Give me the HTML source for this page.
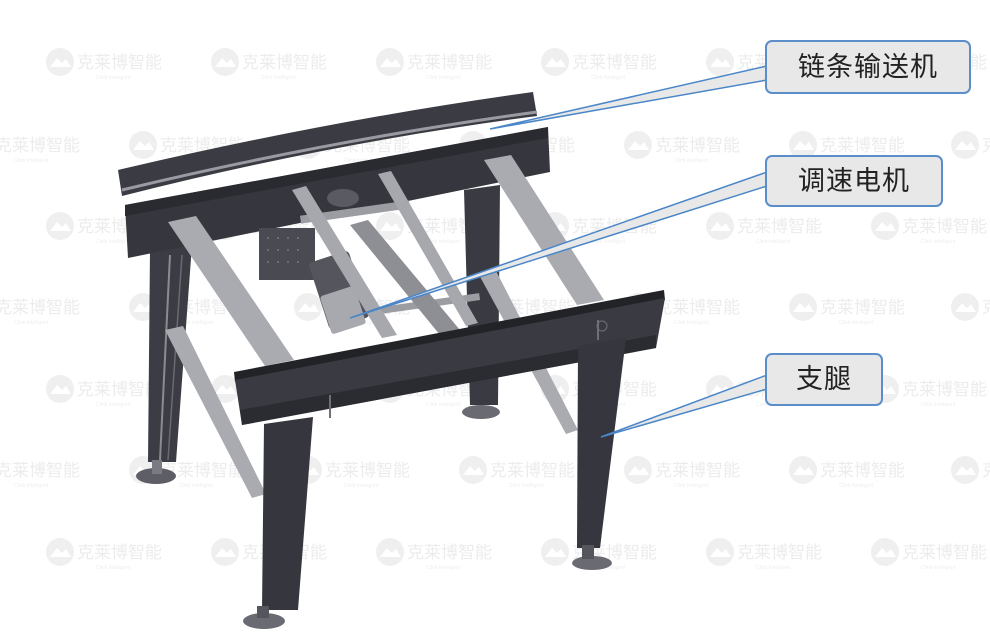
<!DOCTYPE html>
<html><head><meta charset="utf-8"><style>
html,body{margin:0;padding:0;background:#fff;}
.w{position:relative;width:990px;height:638px;overflow:hidden;background:#fff;}
svg{position:absolute;left:0;top:0;}
.lbl{position:absolute;background:#e8e8e8;border:2px solid #5b8ec9;border-radius:7px;font-family:"Liberation Sans","Noto Sans CJK SC",sans-serif;font-size:27px;color:#222;box-sizing:border-box;text-align:center;letter-spacing:1px;}
</style></head><body><div class="w">
<svg width="990" height="638" viewBox="0 0 990 638">
<defs>
<g id="wm">
<circle cx="0" cy="0" r="14" fill="#efefef"/>
<path d="M-10 5 L-3 -4 L2 1 L6 -3 L11 5 Z" fill="#fff"/>
<text x="17" y="6" font-family="Liberation Sans, Noto Sans CJK SC, sans-serif" font-size="17" fill="#ececec">克莱博智能</text>
<text x="36" y="17" font-family="Liberation Sans, sans-serif" font-size="5" fill="#eeeeee">Clinb Intelligent</text>
</g>
</defs>
<g>
<use href="#wm" x="60" y="62"/><use href="#wm" x="225" y="62"/><use href="#wm" x="390" y="62"/><use href="#wm" x="555" y="62"/><use href="#wm" x="720" y="62"/><use href="#wm" x="885" y="62"/>
<use href="#wm" x="-22" y="145"/><use href="#wm" x="143" y="145"/><use href="#wm" x="308" y="145"/><use href="#wm" x="473" y="145"/><use href="#wm" x="638" y="145"/><use href="#wm" x="803" y="145"/><use href="#wm" x="965" y="145"/>
<use href="#wm" x="60" y="226"/><use href="#wm" x="225" y="226"/><use href="#wm" x="390" y="226"/><use href="#wm" x="555" y="226"/><use href="#wm" x="720" y="226"/><use href="#wm" x="885" y="226"/>
<use href="#wm" x="-22" y="307"/><use href="#wm" x="143" y="307"/><use href="#wm" x="308" y="307"/><use href="#wm" x="473" y="307"/><use href="#wm" x="638" y="307"/><use href="#wm" x="803" y="307"/><use href="#wm" x="965" y="307"/>
<use href="#wm" x="60" y="389"/><use href="#wm" x="225" y="389"/><use href="#wm" x="390" y="389"/><use href="#wm" x="555" y="389"/><use href="#wm" x="720" y="389"/><use href="#wm" x="885" y="389"/>
<use href="#wm" x="-22" y="470"/><use href="#wm" x="143" y="470"/><use href="#wm" x="308" y="470"/><use href="#wm" x="473" y="470"/><use href="#wm" x="638" y="470"/><use href="#wm" x="803" y="470"/><use href="#wm" x="965" y="470"/>
<use href="#wm" x="60" y="552"/><use href="#wm" x="225" y="552"/><use href="#wm" x="390" y="552"/><use href="#wm" x="555" y="552"/><use href="#wm" x="720" y="552"/><use href="#wm" x="885" y="552"/>
</g>
<!-- back right leg -->
<polygon points="464,190 500,185 498,405 470,405" fill="#3a3b42"/>
<ellipse cx="481" cy="412" rx="19" ry="7" fill="#6a6b72"/>
<!-- back left legs -->
<polygon points="150,250 192,245 176,462 148,462" fill="#3c3d44"/>
<line x1="170" y1="255" x2="160" y2="460" stroke="#8b8c92" stroke-width="2"/>
<line x1="182" y1="255" x2="168" y2="460" stroke="#6a6b72" stroke-width="1.5"/>
<ellipse cx="156" cy="476" rx="20" ry="8" fill="#5e5f66"/>
<rect x="152" y="460" width="10" height="14" fill="#7a7b82"/>
<!-- top curved rail -->
<path d="M118 170 Q330 120 533 92 L537 116 Q330 143 122 196 Z" fill="#3b3c43"/>
<path d="M122 190 Q330 140 537 112" stroke="#9a9ba2" stroke-width="3" fill="none"/>
<!-- back frame -->
<polygon points="125,205 548,127 550,172 128,258" fill="#36373e"/>
<polygon points="125,205 548,127 548,138 125,216" fill="#2a2b30"/>
<!-- motor back panel -->
<rect x="259" y="228" width="56" height="52" fill="#4a4b52"/>
<g fill="#777">
<circle cx="268" cy="238" r="1"/><circle cx="278" cy="238" r="1"/><circle cx="288" cy="238" r="1"/><circle cx="298" cy="238" r="1"/>
<circle cx="268" cy="250" r="1"/><circle cx="278" cy="250" r="1"/><circle cx="288" cy="250" r="1"/><circle cx="298" cy="250" r="1"/>
<circle cx="268" cy="262" r="1"/><circle cx="278" cy="262" r="1"/><circle cx="288" cy="262" r="1"/><circle cx="298" cy="262" r="1"/>
</g>
<!-- motor -->
<rect x="318" y="255" width="42" height="70" rx="4" fill="#55565d" transform="rotate(-18 339 290)"/>
<rect x="325" y="290" width="36" height="40" rx="3" fill="#a8a9ae" transform="rotate(-18 343 310)"/>
<ellipse cx="343" cy="198" rx="16" ry="9" fill="#5a5b62"/>
<rect x="300" y="208" width="110" height="8" fill="#9c9da3" transform="rotate(-8 355 212)"/>
<rect x="380" y="300" width="100" height="7" fill="#9c9da3" transform="rotate(-8 430 303)"/>
<polygon points="350,225 368,220 460,330 440,335" fill="#8e8f95"/>
<!-- middle rods -->
<polygon points="292,190 306,186 397,335 382,338" fill="#a6a8ad"/>
<polygon points="378,174 391,171 478,323 466,326" fill="#a6a8ad"/>
<!-- left crossbars -->
<polygon points="168,222 196,216 294,360 265,366" fill="#a9abb0"/>
<polygon points="165,330 183,326 266,494 252,498" fill="#a9abb0"/>
<!-- right crossbars -->
<polygon points="484,160 511,155 604,300 577,305" fill="#a9abb0"/>
<polygon points="478,273 495,269 578,430 566,434" fill="#a9abb0"/>
<!-- front beam -->
<polygon points="234,372 664,290 665,300 235,382" fill="#222327"/>
<polygon points="235,380 665,298 656,348 242,425" fill="#3a3b42"/>
<polygon points="240,410 656,335 656,348 242,425" fill="#2b2c31"/>
<line x1="330" y1="395" x2="330" y2="418" stroke="#6f7076" stroke-width="2"/>
<line x1="598" y1="320" x2="598" y2="340" stroke="#6f7076" stroke-width="2"/>
<circle cx="602" cy="326" r="5" fill="none" stroke="#6f7076"/>
<!-- front legs -->
<polygon points="264,424 313,417 298,610 262,610" fill="#36373e"/>
<ellipse cx="264" cy="621" rx="21" ry="8" fill="#6a6b72"/>
<rect x="257" y="606" width="12" height="12" fill="#55565d"/>
<polygon points="578,346 626,338 600,548 577,548" fill="#36373e"/>
<ellipse cx="592" cy="563" rx="20" ry="7" fill="#6a6b72"/>
<rect x="582" y="545" width="12" height="14" fill="#55565d"/>
<!-- leader lines -->
<polygon points="767,66 767,80 490,129" fill="#e8e8e8" stroke="#4a86c8" stroke-width="1.5"/>
<polygon points="767,172 767,186 350,318" fill="#e8e8e8" stroke="#4a86c8" stroke-width="1.5"/>
<polygon points="767,375 767,389 601,437" fill="#e8e8e8" stroke="#4a86c8" stroke-width="1.5"/>
</svg>
<div class="lbl" style="left:765px;top:40px;width:206px;height:54px;line-height:50px;">链条输送机</div>
<div class="lbl" style="left:765px;top:155px;width:178px;height:52px;line-height:48px;">调速电机</div>
<div class="lbl" style="left:765px;top:353px;width:118px;height:53px;line-height:49px;">支腿</div>
</div></body></html>
